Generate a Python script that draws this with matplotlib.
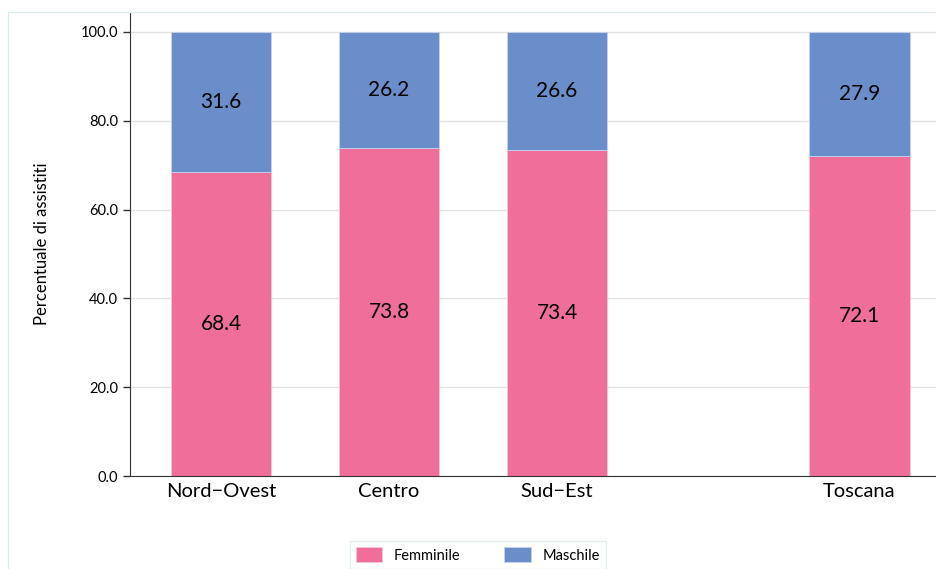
import matplotlib.pyplot as plt
from matplotlib.patches import Rectangle

plt.rcParams['font.family'] = ['Lato', 'DejaVu Sans']

regioni = ['Nord\u2212Ovest', 'Centro', 'Sud\u2212Est', 'Toscana']
posizioni = [0, 1, 2, 3.8]
femminile = [68.4, 73.8, 73.4, 72.1]
maschile = [31.6, 26.2, 26.6, 27.9]

col_f = '#F06E9A'
col_m = '#6A8EC9'

fig = plt.figure(figsize=(9.36, 5.69), dpi=100)
ax = fig.add_axes([130 / 936, 1 - 476 / 569, (936 - 130) / 936, (476 - 12) / 569])

# cornice leggera intorno al grafico
fig.patches.append(Rectangle((8 / 936, -0.1), 1.2, 1 - 12 / 569 + 0.1,
                             transform=fig.transFigure, fill=False,
                             edgecolor='#dcecec', linewidth=1))

b1 = ax.bar(posizioni, femminile, width=0.6, color=col_f, edgecolor='#f7c5d6',
            linewidth=0.6, label='Femminile', zorder=2)
b2 = ax.bar(posizioni, maschile, width=0.6, bottom=femminile, color=col_m,
            edgecolor='#c5d4ee', linewidth=0.6, label='Maschile', zorder=2)

for x, f, m in zip(posizioni, femminile, maschile):
    ax.text(x, f / 2, f'{f:.1f}', ha='center', va='center', fontsize=15)
    ax.text(x, f + m / 2, f'{m:.1f}', ha='center', va='center', fontsize=15)

ax.set_xlim(-0.542, (936 - 221) / 168)
ax.set_ylim(0, 104.5)
ax.set_yticks([0, 20, 40, 60, 80, 100])
ax.set_yticklabels([f'{v:.1f}' for v in [0, 20, 40, 60, 80, 100]], fontsize=10.5)
ax.set_xticks(posizioni)
ax.set_xticklabels(regioni, fontsize=14.5)
ax.tick_params(axis='x', length=0, pad=5)
ax.tick_params(axis='y', length=5, width=1, color='#333333')
ax.grid(axis='y', color='#e3e3e3', linewidth=1, zorder=0)
ax.set_axisbelow(True)
for s in ['top', 'right']:
    ax.spines[s].set_visible(False)
ax.spines['left'].set_color('#333333')
ax.spines['bottom'].set_color('#333333')
ax.set_ylabel('Percentuale di assistiti', fontsize=12, labelpad=22)

fig.legend(handles=[b1, b2], loc='lower center', bbox_to_anchor=(478 / 936, -0.012),
           ncol=2, fontsize=10.5, frameon=True, edgecolor='#dcecec', fancybox=False,
           handlelength=1.8, handleheight=1.2, columnspacing=3)

fig.savefig('out.png', dpi=100)
